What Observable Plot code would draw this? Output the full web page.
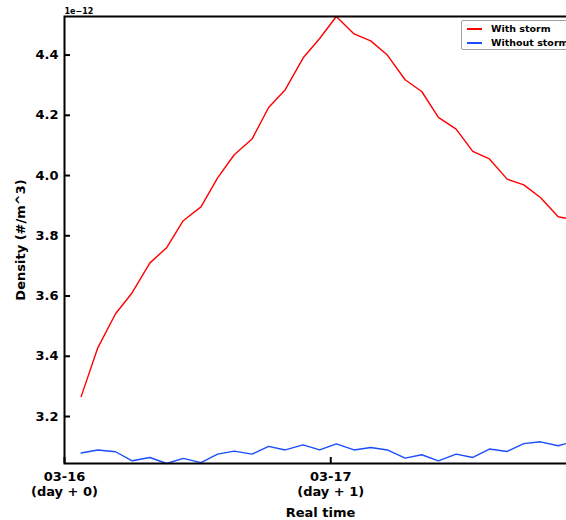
<!DOCTYPE html>
<html>
<head>
<meta charset="utf-8">
<script src="https://cdn.jsdelivr.net/npm/d3@7"></script>
<script src="https://cdn.jsdelivr.net/npm/@observablehq/plot@0.6"></script>
<style>
  html, body { margin: 0; padding: 0; background: white; }
  #wrap { position: relative; width: 566px; height: 520px; overflow: hidden; background: white; }
  #legend {
    position: absolute; left: 461px; top: 20px; width: 110px; height: 30px;
    border: 1px solid #a0a0a0; border-radius: 2px; background: rgba(255,255,255,0.8);
    font-family: "DejaVu Sans", sans-serif; font-weight: bold; font-size: 9.5px; color: black;
    box-sizing: border-box;
  }
  .row { position: absolute; left: 0; height: 12px; line-height: 12px; white-space: nowrap; }
  .swatch { position: absolute; left: 5px; top: 5px; width: 15px; height: 2px; }
  .lab { position: absolute; left: 29px; top: 0; }
</style>
</head>
<body>
<div id="wrap"></div>
<script>
// Time of each sample, hours after 03-16 00:00
const hours = [1.5, 3.0, 4.6, 6.1, 7.7, 9.2, 10.7, 12.3, 13.8, 15.3, 16.9, 18.4, 19.9, 21.5, 23.0,
               24.5, 26.1, 27.6, 29.1, 30.7, 32.2, 33.7, 35.3, 36.8, 38.3, 39.9, 41.4, 42.9, 44.5, 46.0];
// Density in units of 1e-12 #/m^3
const withStorm = [3.266, 3.428, 3.541, 3.611, 3.710, 3.760, 3.850, 3.896, 3.992, 4.069, 4.121, 4.226,
                   4.285, 4.390, 4.455, 4.528, 4.470, 4.447, 4.400, 4.318, 4.279, 4.193, 4.154, 4.080,
                   4.055, 3.988, 3.969, 3.927, 3.863, 3.853];
const withoutStorm = [3.079, 3.089, 3.083, 3.053, 3.064, 3.044, 3.061, 3.047, 3.075, 3.085, 3.075, 3.101,
                      3.089, 3.106, 3.089, 3.109, 3.089, 3.097, 3.089, 3.062, 3.073, 3.053, 3.075, 3.064,
                      3.092, 3.084, 3.110, 3.116, 3.103, 3.118];
const seriesNames = ["With storm", "Without storm"];
const seriesColors = ["#ff0000", "#1a4dff"];
const xTickValues = [0, 24];
const xTickLabels = ["03-16\n(day + 0)", "03-17\n(day + 1)"];
const yTickValues = [3.2, 3.4, 3.6, 3.8, 4.0, 4.2, 4.4];
const xDomainEnd = 46.15;

const seriesValues = [withStorm, withoutStorm];
const rows = seriesNames.flatMap((name, s) =>
  hours.map((h, i) => ({series: name, hour: h, density: seriesValues[s][i]})));

const W = 586, H = 520, mL = 64, mR = 10, mT = 16, mB = 57;
const plotW = W - mL - mR, plotH = H - mT - mB;

const chart = Plot.plot({
  width: W, height: H,
  marginLeft: mL, marginRight: mR, marginTop: mT, marginBottom: mB,
  style: {fontFamily: "'DejaVu Sans', sans-serif", fontWeight: "bold", fontSize: "13px",
          background: "white", maxWidth: "none", color: "black"},
  x: {domain: [0, xDomainEnd]},
  y: {domain: d3.extent([...withStorm, ...withoutStorm])},
  color: {domain: seriesNames, range: seriesColors},
  marks: [
    Plot.line(rows, {x: "hour", y: "density", z: "series", stroke: "series", strokeWidth: 1.4}),
    Plot.frame({stroke: "black", strokeWidth: 2}),
    Plot.tickX(xTickValues, {x: d => d, insetTop: plotH - 6, stroke: "black", strokeWidth: 2}),
    Plot.tickY(yTickValues, {y: d => d, insetRight: plotW - 6, stroke: "black", strokeWidth: 2}),
    Plot.axisX(xTickValues, {tickSize: 0, tickPadding: 6, label: null, fontSize: 13, lineHeight: 1.2,
      tickFormat: d => xTickLabels[xTickValues.indexOf(d)]}),
    Plot.axisY(yTickValues, {tickSize: 0, tickPadding: 6, label: null, fontSize: 13,
      tickFormat: d3.format(".1f")}),
    Plot.text(["Real time"], {text: d => d, frameAnchor: "bottom", dy: 53, lineAnchor: "bottom",
      fontSize: 13, fontWeight: "bold"}),
    Plot.text(["Density (#/m^3)"], {text: d => d, frameAnchor: "left", dx: -40, rotate: -90,
      textAnchor: "middle", lineAnchor: "bottom", fontSize: 13, fontWeight: "bold"}),
    Plot.text(["1e\u221212"], {text: d => d, frameAnchor: "top-left", dy: -2.5, lineAnchor: "bottom",
      textAnchor: "start", fontSize: 8, fontWeight: "bold"})
  ]
});

const wrap = document.getElementById("wrap");
wrap.appendChild(chart);

const legend = document.createElement("div");
legend.id = "legend";
seriesNames.forEach((name, i) => {
  const row = document.createElement("div");
  row.className = "row";
  row.style.top = (1.5 + i * 14.4) + "px";
  row.style.width = "100%";
  const sw = document.createElement("span");
  sw.className = "swatch";
  sw.style.background = seriesColors[i];
  const lab = document.createElement("span");
  lab.className = "lab";
  lab.textContent = name;
  row.appendChild(sw);
  row.appendChild(lab);
  legend.appendChild(row);
});
wrap.appendChild(legend);
</script>
</body>
</html>
